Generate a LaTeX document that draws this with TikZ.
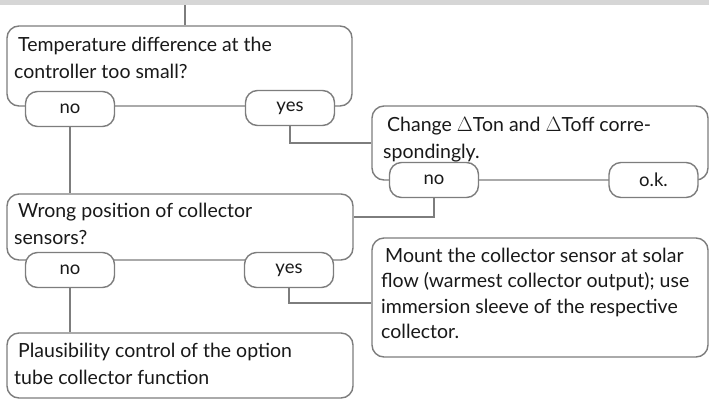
\documentclass[tikz,border=0pt]{standalone}
\usepackage{fontspec}
\setmainfont{Lato}
\definecolor{linegray}{RGB}{125,125,125}
\definecolor{bargray}{RGB}{214,214,214}
\definecolor{txt}{RGB}{25,25,25}
\begin{document}
\begin{tikzpicture}[x=1pt,y=-1pt,
  box/.style={draw=linegray, line width=1.4pt, rounded corners=12pt, fill=white, inner sep=0pt},
  pill/.style={draw=linegray, line width=1.4pt, rounded corners=12pt, fill=white, inner sep=0pt,
    minimum width=89pt, minimum height=35pt, font=\fontsize{18.5}{22}\selectfont, text=txt},
  btext/.style={anchor=north west, inner sep=0pt, align=left, text=txt,
    font=\fontsize{19.5}{26.5}\selectfont},
  conn/.style={draw=linegray, line width=1.4pt}]
\useasboundingbox (0,0) rectangle (709,400);
\fill[bargray] (0,0) rectangle (709,5);
\coordinate (top) at (185,5);

% boxes
\node[box, minimum width=345pt, minimum height=80pt] (b1) at (179.5,66) {};
\node[box, minimum width=336pt, minimum height=74pt] (b2) at (540,143) {};
\node[box, minimum width=346pt, minimum height=66pt] (b3) at (180,227) {};
\node[box, minimum width=336pt, minimum height=119pt] (b4) at (540,297.5) {};
\node[box, minimum width=346pt, minimum height=65pt] (b5) at (180,365.5) {};

% texts
\node[btext] (t1) at (14,37) {\hspace*{4pt}Temperature difference at the\\controller too small?};
\node[btext] (t2) at (383,117) {\hspace*{4pt}Change $\Delta$Ton and $\Delta$Toff corre-\\spondingly.};
\node[btext] (t3) at (14,203) {\hspace*{4pt}Wrong position of collector\\sensors?};
\node[btext, font=\fontsize{19.5}{25.4}\selectfont] (t4) at (381,248) {\hspace*{4pt}Mount the collector sensor at solar\\flow (warmest collector output); use\\immersion sleeve of the respective\\collector.};
\node[btext] (t5) at (14,343) {\hspace*{4pt}Plausibility control of the option\\tube collector function};

% pills
\node[pill] (no1) at (70,109) {no};
\node[pill] (yes1) at (290,108) {yes};
\node[pill] (no2) at (434,180) {no};
\node[pill] (ok2) at (653.5,180) {o.k.};
\node[pill] (no3) at (70,270) {no};
\node[pill] (yes3) at (289,270) {yes};

% connectors
\draw[conn] (top) -- (top |- b1.north);
\draw[conn] (no1.south) -- (no1.south |- b3.north);
\draw[conn] (yes1.south) |- (b2.west);
\draw[conn] (no2.south) |- (b3.east |- {(0,217)});
\draw[conn] (yes3.south) |- (b4.west |- {(0,303)});
\draw[conn] (no3.south) -- (no3.south |- b5.north);
\end{tikzpicture}
\end{document}
